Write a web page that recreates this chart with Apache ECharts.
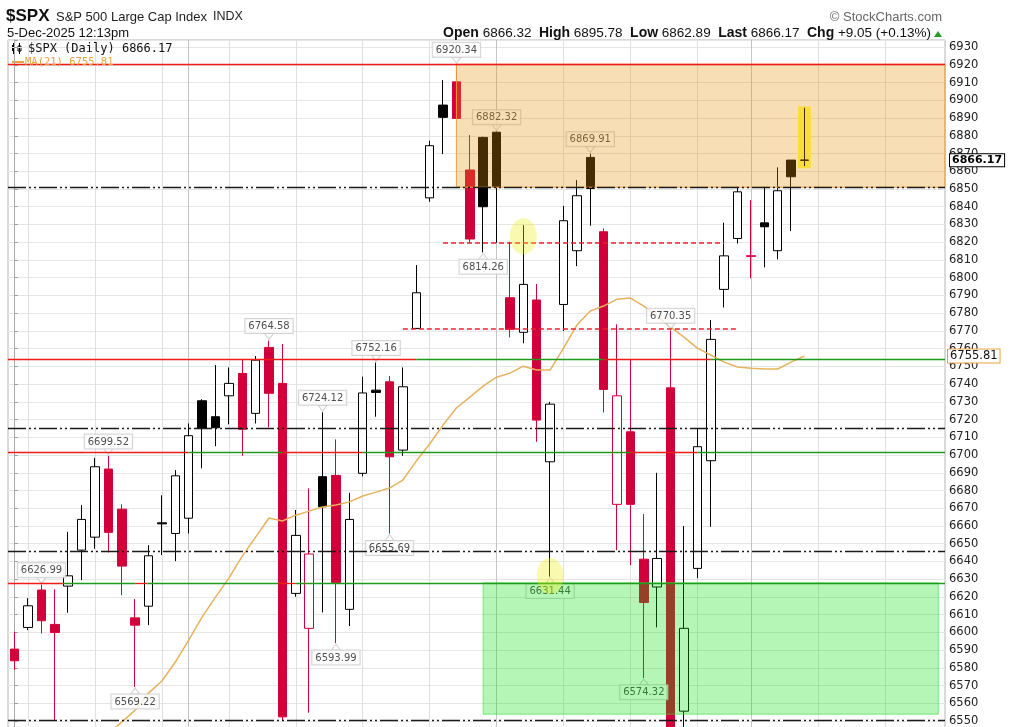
<!DOCTYPE html>
<html><head><meta charset="utf-8">
<script src="https://cdn.jsdelivr.net/npm/echarts@6/dist/echarts.min.js"></script>
<style>html,body{margin:0;padding:0;background:#fff}#c{width:1030px;height:727px}</style>
</head><body><div id="c"></div>
<script>
// ---------------- DATA ----------------
const tradeDates = ['2025-09-12','2025-09-15','2025-09-16','2025-09-17','2025-09-18','2025-09-19','2025-09-22','2025-09-23','2025-09-24','2025-09-25','2025-09-26','2025-09-29','2025-09-30','2025-10-01','2025-10-02','2025-10-03','2025-10-06','2025-10-07','2025-10-08','2025-10-09','2025-10-10','2025-10-13','2025-10-14','2025-10-15','2025-10-16','2025-10-17','2025-10-20','2025-10-21','2025-10-22','2025-10-23','2025-10-24','2025-10-27','2025-10-28','2025-10-29','2025-10-30','2025-10-31','2025-11-03','2025-11-04','2025-11-05','2025-11-06','2025-11-07','2025-11-10','2025-11-11','2025-11-12','2025-11-13','2025-11-14','2025-11-17','2025-11-18','2025-11-19','2025-11-20','2025-11-21','2025-11-24','2025-11-25','2025-11-26','2025-11-28','2025-12-01','2025-12-02','2025-12-03','2025-12-04','2025-12-05'];
const futureDates = ['2025-12-08','2025-12-09','2025-12-10','2025-12-11','2025-12-12','2025-12-15','2025-12-16','2025-12-17','2025-12-18','2025-12-19'];

const opens = [6590.6,6602.8,6623.9,6604.5,6626.1,6646.4,6653.7,6692.1,6669.5,6608.2,
  6614.8,6661.8,6655.8,6664.4,6730.6,6721.6,6733.4,6746.0,6723.5,6760.7,
  6740.4,6622.0,6602.3,6687.8,6688.5,6613.0,6689.7,6736.6,6741.3,6702.8,
  6771.4,6845.0,6897.3,6910.4,6860.7,6879.1,6882.0,6788.7,6769.2,6787.4,
  6696.2,6784.9,6815.2,6867.8,6825.9,6672.2,6713.1,6641.3,6625.6,6737.9,
  6555.6,6636.1,6696.8,6793.4,6822.1,6812.0,6830.9,6815.2,6866.3,6866.32];
const highs = [6600.4,6619.3,6626.99,6624.3,6656.7,6671.8,6698.4,6699.52,6672.2,6618.8,
  6649.2,6677.3,6691.5,6717.8,6731.5,6750.7,6749.4,6753.9,6755.8,6764.58,
  6762.6,6669.0,6681.2,6724.12,6708.8,6678.7,6744.2,6752.16,6744.5,6749.4,
  6807.1,6877.2,6911.4,6920.34,6880.4,6879.5,6882.32,6820.2,6829.6,6796.4,
  6730.0,6840.5,6855.0,6869.91,6827.8,6773.7,6753.5,6666.7,6690.0,6770.35,
  6660.0,6715.0,6776.1,6831.0,6851.2,6843.7,6851.2,6862.2,6866.3,6895.78];
const lows = [6578.8,6601.3,6599.4,6550.5,6611.1,6629.5,6647.1,6645.1,6621.0,6569.22,
  6604.1,6643.6,6640.2,6655.8,6692.5,6705.0,6717.3,6699.6,6717.8,6715.6,
  6550.6,6620.1,6554.7,6611.3,6593.99,6603.6,6688.0,6721.6,6655.69,6699.6,
  6771.0,6842.8,6869.7,6889.5,6819.7,6814.26,6819.7,6766.3,6763.0,6707.5,
  6631.44,6770.0,6806.5,6829.3,6724.0,6646.4,6637.9,6574.32,6602.8,6525.0,
  6521.0,6630.5,6659.6,6783.2,6819.3,6799.6,6805.8,6810.3,6826.3,6862.89];
const closes = [6584.0,6615.0,6606.6,6600.0,6631.9,6663.7,6693.4,6656.4,6637.4,6604.1,
  6643.2,6661.2,6688.3,6710.9,6715.0,6715.4,6740.4,6714.5,6753.5,6734.8,
  6552.4,6654.7,6644.2,6670.8,6628.2,6663.7,6735.0,6735.3,6699.0,6738.5,
  6791.5,6874.4,6890.4,6889.8,6821.8,6840.0,6851.2,6770.9,6796.2,6719.7,
  6728.7,6832.1,6846.2,6850.3,6737.0,6733.4,6672.2,6616.9,6641.7,6538.0,
  6602.3,6704.7,6765.2,6812.3,6848.4,6812.4,6828.7,6849.0,6856.9,6866.17];
const prevCloseBeforeFirst = 6587.0;
const ma21 = [null,null,null,null,null,null,null,6543.0,6549.4,6556.2,
  6565.8,6572.6,6583.3,6595.7,6608.6,6619.9,6630.6,6643.0,6653.7,6664.5,
  6662.8,6666.1,6668.4,6670.7,6671.8,6673.6,6676.9,6679.1,6681.4,6685.9,
  6696.6,6706.2,6716.9,6726.5,6732.7,6738.9,6743.9,6746.2,6750.1,6747.9,
  6747.9,6760.3,6773.3,6781.2,6784.0,6787.9,6788.5,6784.0,6778.3,6772.1,
  6766.5,6760.3,6756.4,6752.4,6749.6,6749.0,6748.5,6748.5,6752.4,6755.81];

// labelled highs / lows (candle index)
const highLabelIdx = [2, 7, 19, 23, 27, 33, 36, 43, 49];
const lowLabelIdx = [9, 24, 28, 35, 40, 47];

// horizontal levels
const redLevels = [6920.34, 6754.0, 6701.3, 6628.0];
const dashDotLevels = [6851.0, 6715.0, 6646.0, 6550.6];
const redDashed = [[32, 53, 6819.7], [29, 54, 6771.0]];
const greenSegments = [[30, 44, 6754.0], [52, 69.5, 6754.0],
  [13, 20, 6701.3], [26, 46, 6701.3], [51, 69.5, 6701.3],
  [3.6, 9, 6628.0], [9.9, 19.7, 6628.0], [21, 69.5, 6628.0]];
// zones [x0, x1, yTop, yBottom]
const orangeZone = [33, 69.5, 6920.34, 6851.0];
const greenZone = [35, 69, 6628.0, 6553.9];
const highlightEllipses = [[38, 6823.3], [40, 6631.8]];

// ---------------- BUILD ----------------
const allDates = tradeDates.concat(futureDates);
const N = allDates.length;
const RED = '#d2003a', BLACK = '#000';

const candleData = opens.map((o, i) => {
  const c = closes[i];
  const prev = i === 0 ? prevCloseBeforeFirst : closes[i - 1];
  const col = c >= prev ? BLACK : RED;
  const fill = c >= o ? '#ffffff' : col;
  return { value: [i, o, c, lows[i], highs[i]],
    itemStyle: { color: fill, color0: fill, borderColor: col, borderColor0: col } };
});

// vertical grid lines: Mondays and first trading day of a month
const vLines = [];
for (let i = 1; i < N; i++) {
  const d = new Date(allDates[i] + 'T00:00:00Z');
  const p = new Date(allDates[i - 1] + 'T00:00:00Z');
  const newMonth = d.getUTCMonth() !== p.getUTCMonth();
  if (d.getUTCDay() === 1 || newMonth) {
    vLines.push({ xAxis: i, lineStyle: { color: newMonth ? '#c4c4c4' : '#e0e0e0', width: 1, type: 'solid' } });
  }
}

// red levels are drawn where no green segment covers them
const redPieces = [];
redLevels.forEach(v => {
  const segs = greenSegments.filter(s => s[2] === v).sort((a, b) => a[0] - b[0]);
  let start = -0.5;
  segs.forEach(s => { if (s[0] > start) redPieces.push([start, s[0], v]); start = Math.max(start, s[1]); });
  if (start < N - 0.5) redPieces.push([start, N - 0.5, v]);
});

const dashDot = [18, 3, 2, 3, 2, 3];
const hLines = [];
dashDotLevels.forEach(v => hLines.push({ yAxis: v, lineStyle: { color: '#1a1a1a', width: 1.4, type: dashDot } }));
redPieces.forEach(s => hLines.push([{ coord: [s[0], s[2]], lineStyle: { color: '#f21a1a', width: 1.3, type: 'solid' } }, { coord: [s[1], s[2]] }]));
greenSegments.forEach(s => hLines.push([{ coord: [s[0], s[2]], lineStyle: { color: '#1f9a1f', width: 1.3, type: 'solid' } }, { coord: [s[1], s[2]] }]));
redDashed.forEach(s => hLines.push([{ coord: [s[0], s[2]], lineStyle: { color: '#e8202a', width: 1.5, type: [5, 3] } }, { coord: [s[1], s[2]] }]));

const labelBase = { show: true, fontFamily: 'DejaVu Sans', fontSize: 10, color: '#222', backgroundColor: '#fff',
  borderColor: '#c8c8c8', borderWidth: 1, padding: [2, 3, 1, 3], lineHeight: 11, distance: 0,
  formatter: p => p.value[1].toFixed(2) };
const labelPts = [];
highLabelIdx.forEach(i => labelPts.push({ value: [i, highs[i]], symbol: 'path://M0,0 L10,0 L5,6 Z', symbolSize: [9, 6], symbolOffset: [0, -4],
  label: { position: 'top' } }));
lowLabelIdx.forEach(i => labelPts.push({ value: [i, lows[i]], symbol: 'path://M5,0 L10,6 L0,6 Z', symbolSize: [9, 6], symbolOffset: [0, 4],
  label: { position: 'bottom' } }));

const lastClose = closes[closes.length - 1];
const lastMA = ma21[ma21.length - 1];
const last = closes.length - 1;

const option = {
  animation: false,
  backgroundColor: '#fff',
  grid: { left: 8, top: 40, width: 937, height: 394 * 1.7737, show: true, borderColor: '#b4b4b4', borderWidth: 1,
    containLabel: false, outerBoundsMode: 'none' },
  xAxis: { type: 'value', min: -0.5, max: N - 0.5, axisLine: { show: false }, axisTick: { show: false },
    axisLabel: { show: false }, splitLine: { show: false } },
  yAxis: { type: 'value', position: 'right', min: 6540, max: 6934, interval: 10, scale: true,
    axisLine: { show: true, lineStyle: { color: '#aaa' } },
    axisTick: { show: true, length: 3, lineStyle: { color: '#999' } },
    axisLabel: { margin: 4, color: '#222', fontSize: 11.5, fontFamily: 'DejaVu Sans',
      formatter: v => (v % 10 === 0 && v >= 6550 && v <= 6930) ? String(v) : '' },
    splitLine: { lineStyle: { color: '#e6e6e6', width: 1 } } },
  graphic: [
    { type: 'text', x: 6, y: 16, style: { text: '$SPX', font: 'bold 17px "Liberation Sans", Arial', fill: '#111', textVerticalAlign: 'middle' } },
    { type: 'text', x: 56, y: 17, style: { text: 'S&P 500 Large Cap Index', font: '13px "Liberation Sans", Arial', fill: '#222', textVerticalAlign: 'middle' } },
    { type: 'text', x: 213, y: 17, style: { text: 'INDX', font: '12.5px "Liberation Sans", Arial', fill: '#222', textVerticalAlign: 'middle' } },
    { type: 'text', x: 7, y: 33, style: { text: '5-Dec-2025 12:13pm', font: '13px "Liberation Sans", Arial', fill: '#111', textVerticalAlign: 'middle' } },
    { type: 'text', x: 931, y: 33, style: {
        text: '{b|Open} 6866.32  {b|High} 6895.78  {b|Low} 6862.89  {b|Last} 6866.17  {b|Chg} +9.05 (+0.13%)',
        font: '13.5px "Liberation Sans", Arial', fill: '#111', textAlign: 'right', textVerticalAlign: 'middle',
        rich: { b: { font: 'bold 14px "Liberation Sans", Arial', fill: '#111' } } } },
    { type: 'polygon', shape: { points: [[934, 37], [942, 37], [938, 31]] }, style: { fill: '#2a9a2a' } },
    { type: 'text', x: 942, y: 17, style: { text: '© StockCharts.com', font: '13px "Liberation Sans", Arial', fill: '#666', textAlign: 'right', textVerticalAlign: 'middle' } },
    // legend
    { type: 'rect', shape: { x: 12, y: 45, width: 3, height: 6 }, style: { fill: '#000' } },
    { type: 'line', shape: { x1: 13.5, y1: 43, x2: 13.5, y2: 54 }, style: { stroke: '#000', lineWidth: 1 } },
    { type: 'rect', shape: { x: 18, y: 46, width: 3, height: 5 }, style: { fill: '#fff', stroke: '#000', lineWidth: 1 } },
    { type: 'line', shape: { x1: 19.5, y1: 43, x2: 19.5, y2: 54 }, style: { stroke: '#000', lineWidth: 1 } },
    { type: 'text', x: 28, y: 49, z: 10, style: { text: '$SPX (Daily) ' + lastClose.toFixed(2), font: '12px "DejaVu Sans Mono"', fill: '#111', textVerticalAlign: 'middle' } },
    { type: 'line', shape: { x1: 12, y1: 62, x2: 24, y2: 62 }, style: { stroke: '#e8a33d', lineWidth: 2 } },
    { type: 'text', x: 25, y: 62, z: 10, style: { text: 'MA(21) ' + lastMA.toFixed(2), font: '10.5px "DejaVu Sans Mono"', fill: '#e8a33d', textVerticalAlign: 'middle' } }
  ],
  series: [
    { // vertical grid lines + yellow highlight behind the candles
      type: 'line', data: [], silent: true,
      markLine: { z: 1, silent: true, symbol: ['none', 'none'], label: { show: false }, data: vLines },
      markArea: { z: 1.5, silent: true, data: [[
        { coord: [last - 0.48, highs[last] + 0.8], itemStyle: { color: '#ffff55' } },
        { coord: [last + 0.48, lows[last] - 1.2] }]] }
    },
    {
      type: 'candlestick', name: '$SPX', z: 2, barWidth: 9,
      encode: { x: 0, y: [1, 2, 3, 4] },
      itemStyle: { borderWidth: 1 },
      data: candleData
    },
    {
      type: 'line', name: 'MA(21)', z: 2.6, data: ma21.map((v, i) => [i, v]), symbol: 'none', connectNulls: false,
      lineStyle: { color: '#e6b25e', width: 1.5 }
    },
    {
      type: 'scatter', z: 2.8, silent: true, data: labelPts,
      itemStyle: { color: '#fff', borderColor: '#c8c8c8', borderWidth: 1 },
      label: labelBase
    },
    { // translucent zones + level lines
      type: 'line', data: [], silent: true,
      markArea: { z: 3, silent: true, data: [
        [{ coord: [orangeZone[0], orangeZone[2]], itemStyle: { color: 'rgba(232,145,8,0.30)', borderColor: '#f0a040', borderWidth: 1 } },
         { coord: [orangeZone[1], orangeZone[3]] }],
        [{ coord: [greenZone[0], greenZone[2]], itemStyle: { color: 'rgba(0,220,0,0.29)', borderColor: 'rgba(60,220,60,0.6)', borderWidth: 1 } },
         { coord: [greenZone[1], greenZone[3]] }]
      ] },
      markLine: { z: 4, silent: true, symbol: ['none', 'none'], label: { show: false }, data: hLines }
    },
    { // highlight ellipses
      type: 'scatter', z: 5, silent: true,
      symbol: 'path://M50,0 C77.6,0 100,22.4 100,50 C100,77.6 77.6,100 50,100 C22.4,100 0,77.6 0,50 C0,22.4 22.4,0 50,0 Z',
      symbolSize: [27, 36], itemStyle: { color: 'rgba(238,238,20,0.42)' },
      data: highlightEllipses
    },
    { // right side value tags
      type: 'line', data: [], silent: true,
      markLine: { z: 6, silent: true, symbol: ['none', 'none'], lineStyle: { color: 'rgba(0,0,0,0)', width: 1, type: 'solid' },
        data: [
          { yAxis: lastClose, label: { show: true, position: 'end', distance: 5, formatter: lastClose.toFixed(2),
              fontFamily: 'DejaVu Sans', fontWeight: 'bold', fontSize: 11, color: '#000', backgroundColor: '#fff',
              borderColor: '#000', borderWidth: 1, padding: [1, 2, 0, 2] } },
          { yAxis: lastMA, label: { show: true, position: 'end', distance: 3, formatter: lastMA.toFixed(2),
              fontFamily: 'DejaVu Sans', fontSize: 11.5, color: '#111', backgroundColor: '#fff',
              borderColor: '#e8a33d', borderWidth: 1, padding: [1, 2, 0, 2] } }
        ] }
    }
  ]
};
const chart = echarts.init(document.getElementById('c'));
chart.setOption(option);
</script>
</body></html>
